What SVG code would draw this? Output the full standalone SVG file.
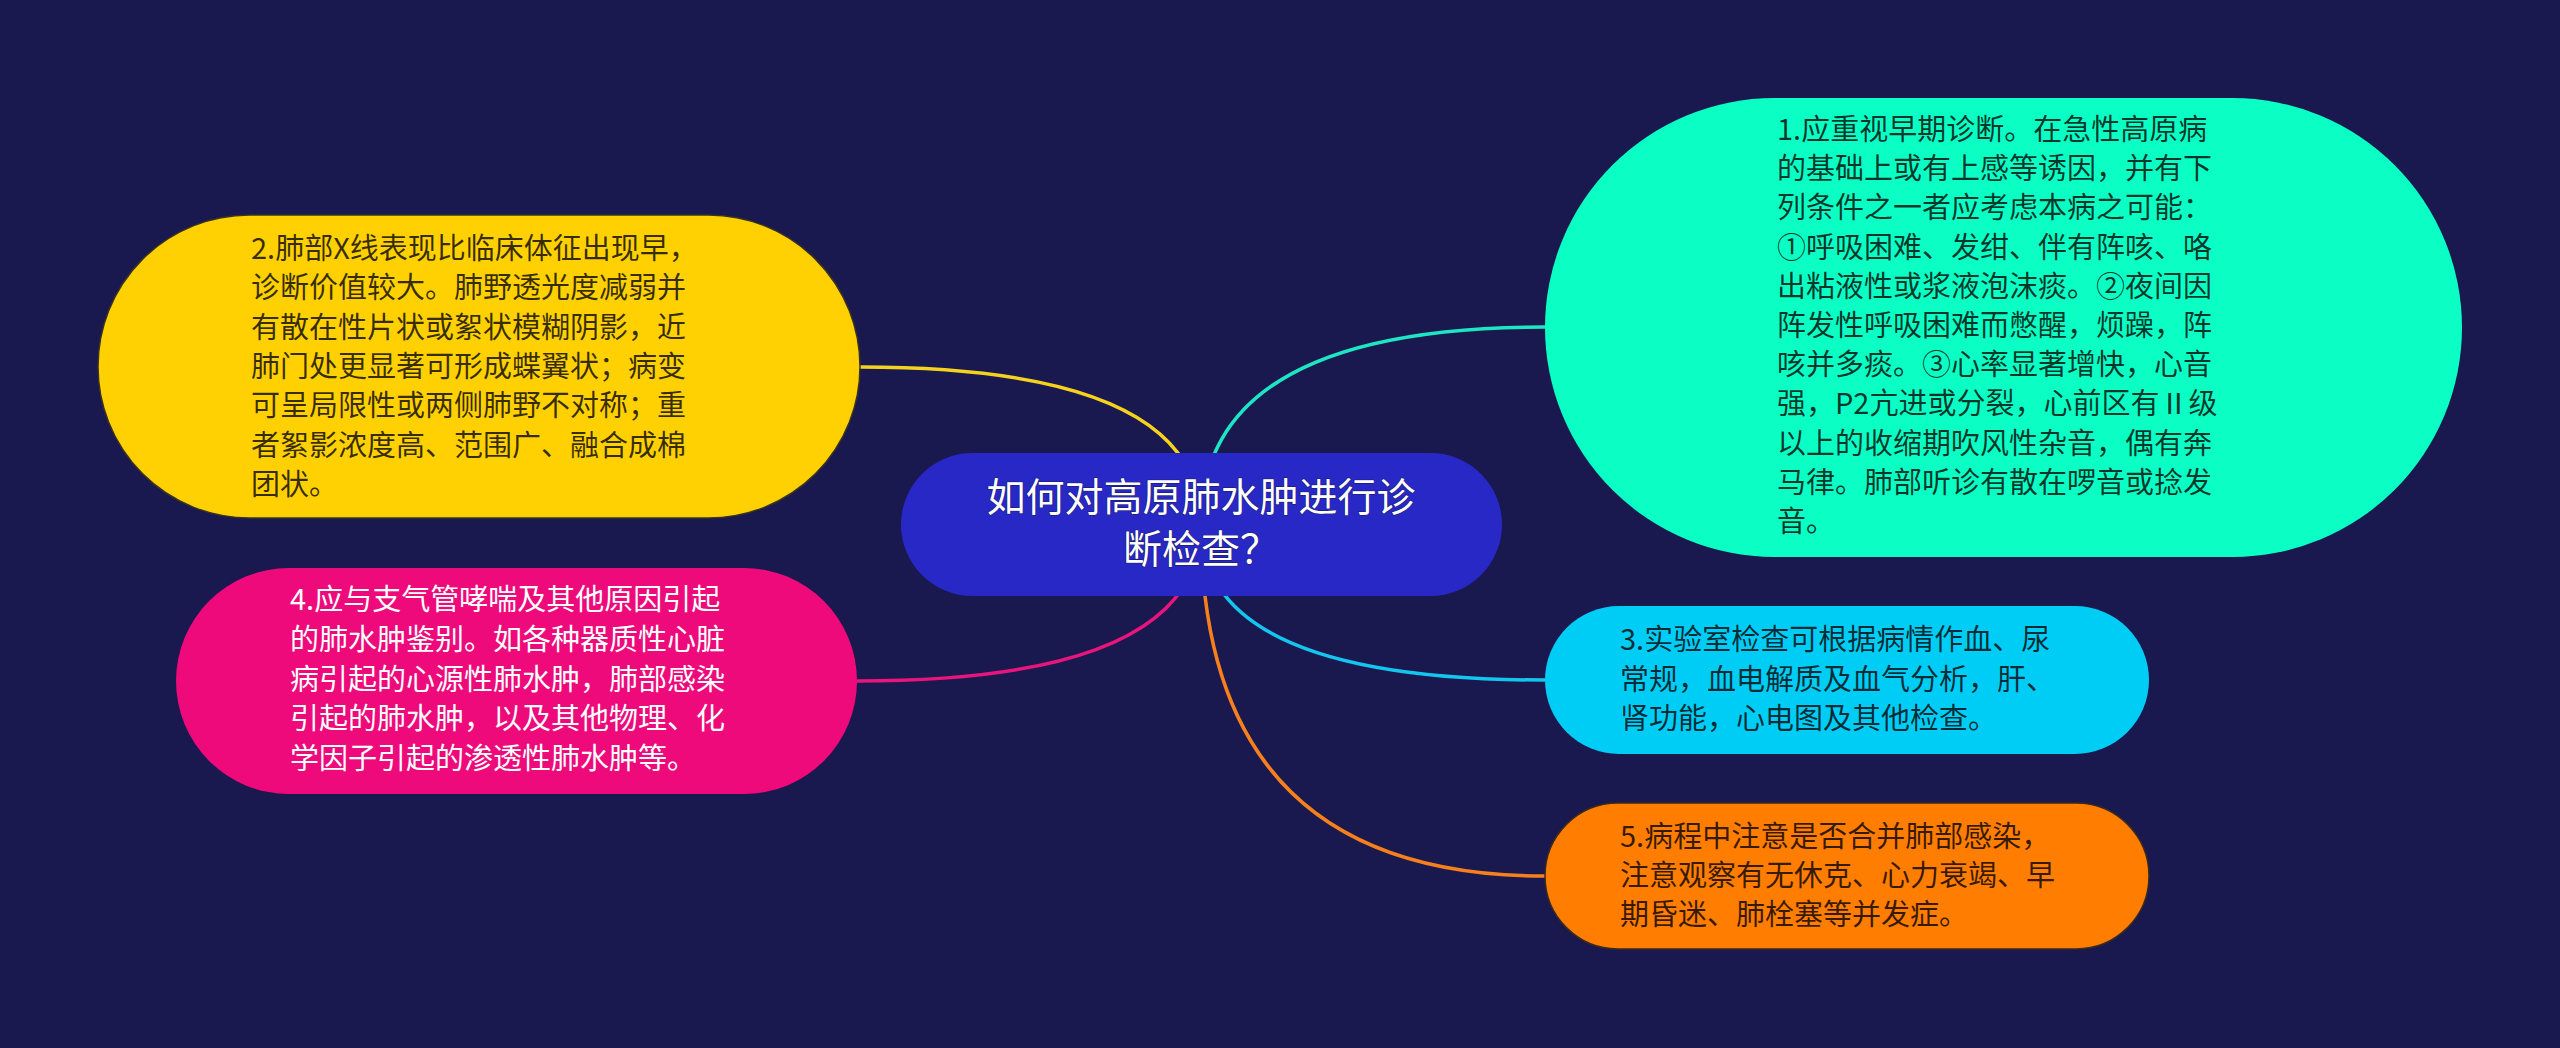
<svg xmlns="http://www.w3.org/2000/svg" width="2560" height="1048" viewBox="0 0 2560 1048">
<style>
.bg{fill:#19184f}
.t{font-family:"Noto Sans CJK SC","Noto Sans",sans-serif;font-size:29px}
.dark{fill:#000;fill-opacity:0.78}
.light{fill:#fff}
.c{fill:none;stroke-width:3.5;stroke-linecap:round}
.ct{font-family:"Noto Sans CJK SC","Noto Sans",sans-serif;font-size:39px;fill:#fff;text-anchor:middle;stroke:#1a1a60;stroke-width:1;paint-order:stroke}
</style>
<rect class="bg" x="0" y="0" width="2560" height="1048"/>
<g id="connectors">
<path class="c" stroke="#f5d21e" d="M1201 524 Q1201 367 860 367"/>
<path class="c" stroke="#1ee6c4" d="M1201 524 Q1201 327 1545 327"/>
<path class="c" stroke="#e8157c" d="M1201 524 Q1201 681 857 681"/>
<path class="c" stroke="#14c6ee" d="M1201 524 Q1201 680 1545 680"/>
<path class="c" stroke="#f7801c" d="M1201 524 Q1201 876 1545 876"/>
</g>
<g id="center">
<rect x="901" y="453" width="601" height="143" rx="71.5" ry="71.5" fill="#2828c6"/>
<text class="ct" x="1201"><tspan x="1201" y="511">如何对高原肺水肿进行诊</tspan><tspan x="1201" y="563">断检查？</tspan></text>
</g>
<g id="node1">
<rect x="1545" y="98" width="917" height="459" rx="229.5" ry="229.5" fill="#0bffc4"/>
<text class="t dark"><tspan x="1777" y="140">1.应重视早期诊断。在急性高原病</tspan><tspan x="1777" y="179">的基础上或有上感等诱因，并有下</tspan><tspan x="1777" y="218">列条件之一者应考虑本病之可能：</tspan><tspan x="1777" y="258">①呼吸困难、发绀、伴有阵咳、咯</tspan><tspan x="1777" y="297">出粘液性或浆液泡沫痰。②夜间因</tspan><tspan x="1777" y="336">阵发性呼吸困难而憋醒，烦躁，阵</tspan><tspan x="1777" y="375">咳并多痰。③心率显著增快，心音</tspan><tspan x="1777" y="414">强，P2亢进或分裂，心前区有Ⅱ级</tspan><tspan x="1777" y="454">以上的收缩期吹风性杂音，偶有奔</tspan><tspan x="1777" y="493">马律。肺部听诊有散在啰音或捻发</tspan><tspan x="1777" y="532">音。</tspan></text>
</g>
<g id="node2">
<rect x="98" y="215" width="762" height="303" rx="151.5" ry="151.5" fill="#ffd102" stroke="#3a3320" stroke-width="1.5"/>
<text class="t dark"><tspan x="251" y="259">2.肺部X线表现比临床体征出现早，</tspan><tspan x="251" y="298">诊断价值较大。肺野透光度减弱并</tspan><tspan x="251" y="338">有散在性片状或絮状模糊阴影，近</tspan><tspan x="251" y="377">肺门处更显著可形成蝶翼状；病变</tspan><tspan x="251" y="416">可呈局限性或两侧肺野不对称；重</tspan><tspan x="251" y="456">者絮影浓度高、范围广、融合成棉</tspan><tspan x="251" y="495">团状。</tspan></text>
</g>
<g id="node3">
<rect x="1545" y="606" width="604" height="148" rx="74" ry="74" fill="#00cdf5"/>
<text class="t dark"><tspan x="1620" y="650">3.实验室检查可根据病情作血、尿</tspan><tspan x="1620" y="690">常规，血电解质及血气分析，肝、</tspan><tspan x="1620" y="729">肾功能，心电图及其他检查。</tspan></text>
</g>
<g id="node4">
<rect x="176" y="568" width="681" height="226" rx="113" ry="113" fill="#ee0a7b"/>
<text class="t light"><tspan x="290" y="610">4.应与支气管哮喘及其他原因引起</tspan><tspan x="290" y="650">的肺水肿鉴别。如各种器质性心脏</tspan><tspan x="290" y="690">病引起的心源性肺水肿，肺部感染</tspan><tspan x="290" y="729">引起的肺水肿，以及其他物理、化</tspan><tspan x="290" y="769">学因子引起的渗透性肺水肿等。</tspan></text>
</g>
<g id="node5">
<rect x="1545" y="803" width="604" height="146" rx="73" ry="73" fill="#ff7d00" stroke="#3a2a20" stroke-width="1.5"/>
<text class="t dark"><tspan x="1620" y="847">5.病程中注意是否合并肺部感染，</tspan><tspan x="1620" y="886">注意观察有无休克、心力衰竭、早</tspan><tspan x="1620" y="925">期昏迷、肺栓塞等并发症。</tspan></text>
</g>
</svg>
